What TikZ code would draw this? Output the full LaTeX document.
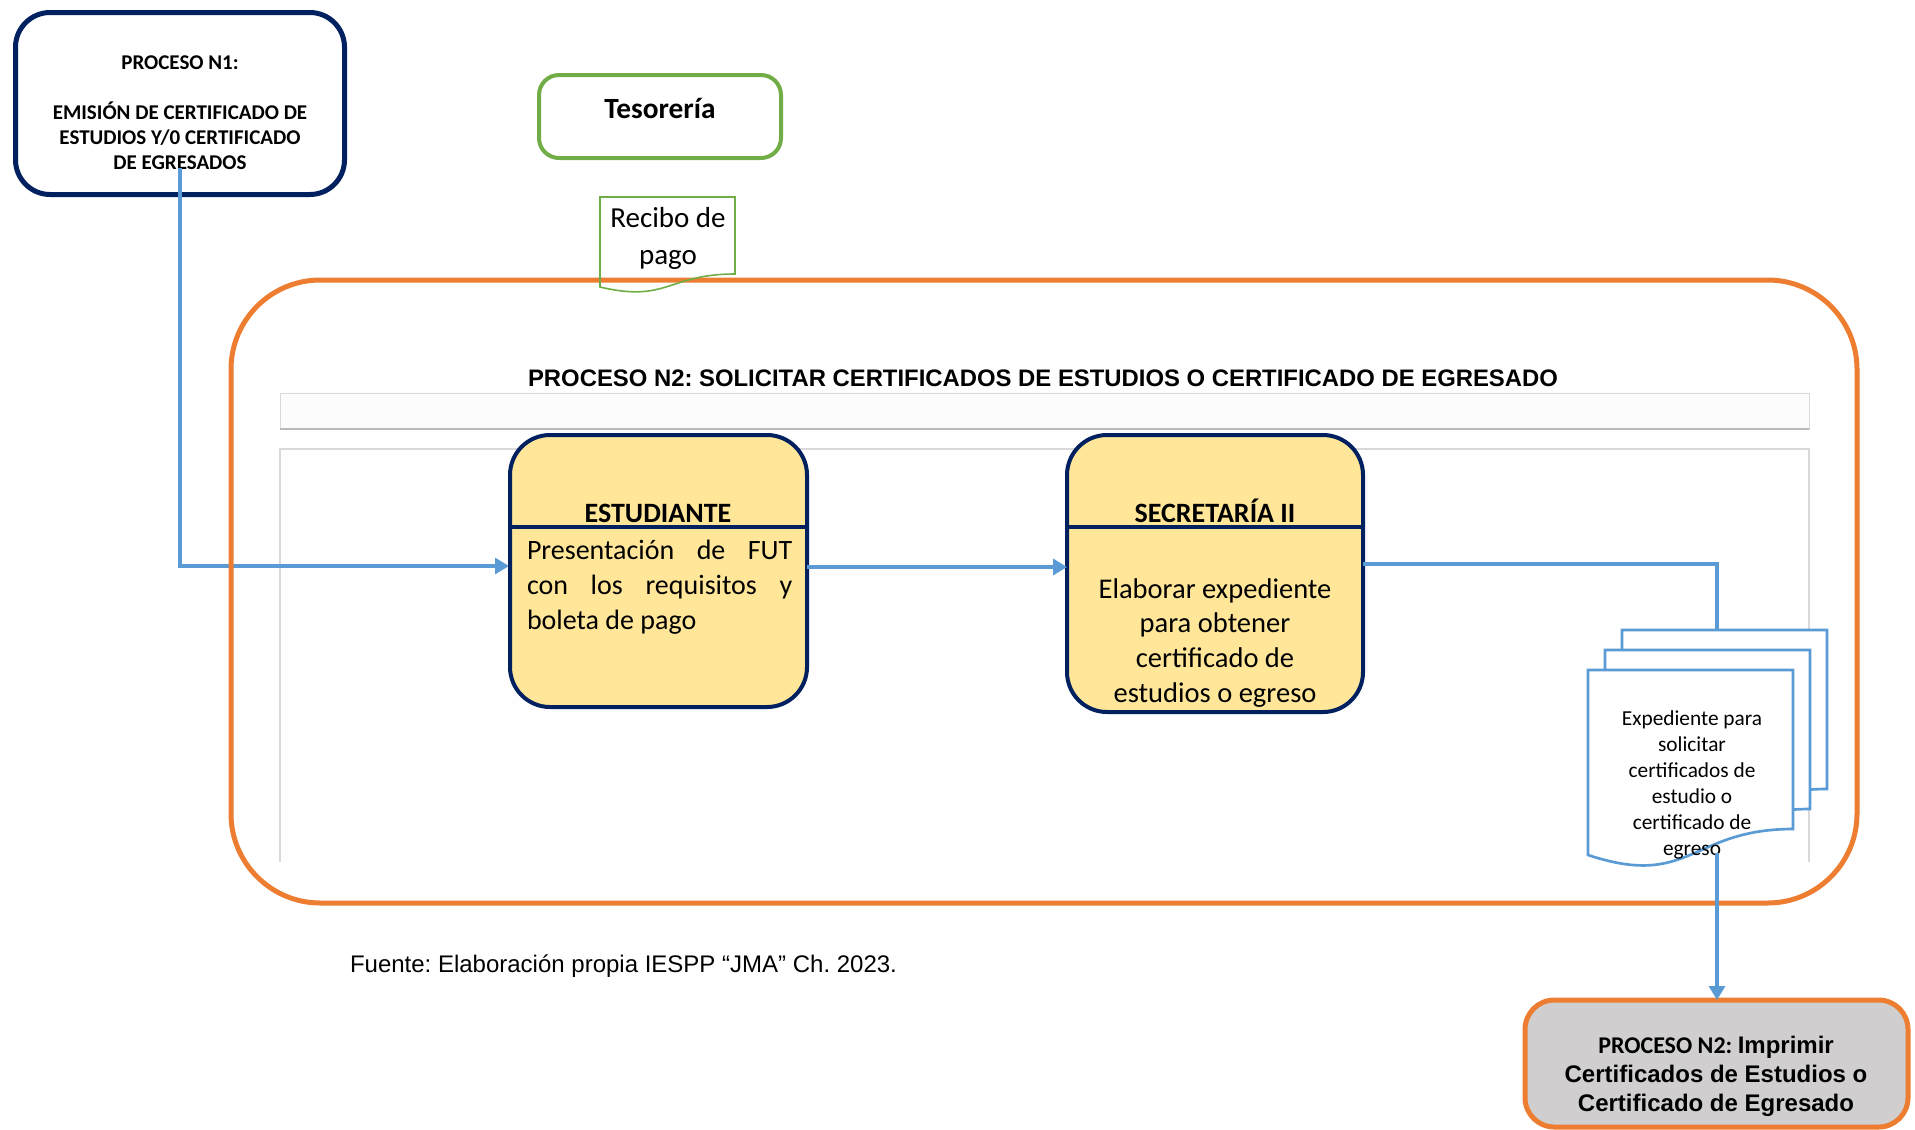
\documentclass[tikz,border=0pt]{standalone}
\usepackage{fontspec}
\setmainfont{Carlito}
\newfontfamily\arialf{Liberation Sans}
\usetikzlibrary{arrows.meta,fit,calc}
\frenchspacing

\definecolor{navy}{HTML}{002060}
\definecolor{orng}{HTML}{ED7D31}
\definecolor{grn}{HTML}{70AD47}
\definecolor{flowblue}{HTML}{5B9BD5}
\definecolor{paleyel}{HTML}{FFE699}
\definecolor{boxgray}{HTML}{D0CECE}
\definecolor{bandgray}{HTML}{D9D9D9}

\newcommand\fs[2]{\fontsize{#1}{#2}\selectfont}

\tikzset{
  frame/.style={inner sep=0pt, outer sep=0pt},
  n1box/.style={frame, draw=navy, line width=3.75pt, rounded corners=26pt},
  tesbox/.style={frame, draw=grn, line width=3pt, rounded corners=15pt},
  lanebox/.style={frame, draw=navy, fill=paleyel, line width=3pt, rounded corners=30pt},
  bigbox/.style={draw=orng, line width=3.75pt, rounded corners=67pt},
  endbox/.style={frame, draw=orng, fill=boxgray, line width=3.75pt, rounded corners=22pt},
  docline/.style={draw=flowblue, fill=white, line width=2pt},
  conn/.style={draw=flowblue, line width=2.4pt},
  flow/.style={conn, -{Triangle[length=10.5pt,width=12pt]}},
  txt/.style={inner sep=0pt, outer sep=0pt},
}

\begin{document}
\begin{tikzpicture}[x=0.75pt, y=-0.75pt]
\useasboundingbox (0,0) rectangle (1915,1129);

% ---- Proceso N1 ----
\node[n1box, fit={(15.5,12.5) (344.5,194.5)}] (n1) {};
\node[txt, font=\bfseries\fs{15.75pt}{18.75pt}, align=center, anchor=base] (n1txt) at (180,169)
  {PROCESO N1:\\[18.75pt]EMISIÓN DE CERTIFICADO DE\\ESTUDIOS Y/0 CERTIFICADO\\DE EGRESADOS};

% ---- Tesorería ----
\node[tesbox, fit={(539,75) (781,158)}] (tes) {};
\node[txt, font=\bfseries\fs{22pt}{26pt}, anchor=base] (testxt) at (660,118) {Tesorería};

% ---- Lanes (light bands) ----
\path[fill=white!98!gray, draw=bandgray, line width=0.75pt] (280,393) rectangle (1809,429);
\draw[gray!55, line width=1.5pt] (280,429) -- (1809,429);
\path[fill=white!99!gray] (280,449) rectangle (1809,862);
\draw[bandgray, line width=0.9pt] (280,862) -- (280,449) -- (1809,449) -- (1809,862);

% ---- Connector from Proceso N1 ----
\coordinate (lane) at (0,567);
\draw[flow] ([yshift=20pt]n1.south) |- ([yshift=0.75pt]lane -| 509,0);

% ---- Big process frame ----
\draw[bigbox] (231,280) rectangle (1857,903);
\node[txt, font=\arialf\bfseries\fs{17.9pt}{21pt}, anchor=base] (title) at (1043,386)
  {PROCESO N2: SOLICITAR CERTIFICADOS DE ESTUDIOS O CERTIFICADO DE EGRESADO};

% ---- Recibo de pago (document) ----
\draw[grn, line width=1.2pt] (600,197) -- (735,197) -- (735,274)
  .. controls (667.5,274) and (667.5,303) .. (600,287) -- cycle;
\node[txt, font=\fs{21.75pt}{27.75pt}, align=center, anchor=base] (recibo) at (668,264)
  {Recibo de\\pago};

% ---- Estudiante ----
\node[lanebox, fit={(510,435) (807,707)}] (est) {};
\draw[navy, line width=3pt] (est.west |- 0,527) -- (est.east |- 0,527);
\node[txt, font=\bfseries\fs{21pt}{25pt}, anchor=base] (esttitle) at (658,522) {ESTUDIANTE};
\node[txt, font=\fs{21pt}{26.25pt}, anchor=base west, align=left] (estbody) at (527,629)
  {\hbox to 199pt{Presentación\hfill de\hfill FUT}\\
   \hbox to 199pt{con\hfill los\hfill requisitos\hfill y}\\
   boleta de pago};

% ---- Secretaría II ----
\node[lanebox, fit={(1067,435) (1363,712)}] (sec) {};
\draw[navy, line width=3pt] (sec.west |- 0,527) -- (sec.east |- 0,527);
\node[txt, font=\bfseries\fs{21pt}{25pt}, anchor=base] (sectitle) at (1215,522) {SECRETARÍA II};
\node[txt, font=\fs{21.4pt}{25.9pt}, align=center, anchor=base] (secbody) at (1215,702)
  {Elaborar expediente\\para obtener\\certificado de\\estudios o egreso};

% ---- Estudiante -> Secretaría ----
\draw[flow, line width=3.6pt] (est.east |- lane) -- (sec.west |- lane);

% ---- Expediente (stacked documents) ----
\draw[docline] (1622,630) -- (1827,630) -- (1827,789)
  .. controls (1724.5,789) and (1724.5,849) .. (1622,815) -- cycle;
\draw[docline] (1605,650) -- (1810,650) -- (1810,809)
  .. controls (1707.5,809) and (1707.5,869) .. (1605,835) -- cycle;
\draw[docline] (1588,670) -- (1793,670) -- (1793,829)
  .. controls (1690.5,829) and (1690.5,889) .. (1588,855) -- cycle;
\coordinate (docin) at (1717,630);
\coordinate (docout) at (1717,853);
\node[txt, font=\fs{16pt}{19.5pt}, align=center, anchor=base] (exptxt) at (1692,855)
  {Expediente para\\solicitar\\certificados de\\estudio o\\certificado de\\egreso};

\coordinate (lane2) at (0,564);
\draw[conn] (sec.east |- lane2) -| (docin);

% ---- Proceso N2: Imprimir ----
\node[endbox, fit={(1525,1000) (1908,1127)}] (p2) {};
\node[txt, font=\bfseries\fs{18pt}{21.75pt}, align=center, anchor=base] (p2txt) at (1716,1111)
  {PROCESO N2: {\arialf Imprimir}\\{\arialf Certificados de Estudios o}\\{\arialf Certificado de Egresado}};
\draw[flow] (docout) -- (p2.north -| docout);

% ---- Source ----
\node[txt, font=\arialf\fs{18pt}{21pt}, anchor=base west] (fuente) at (350,972)
  {Fuente: Elaboración propia IESPP “JMA” Ch. 2023.};
\end{tikzpicture}
\end{document}
